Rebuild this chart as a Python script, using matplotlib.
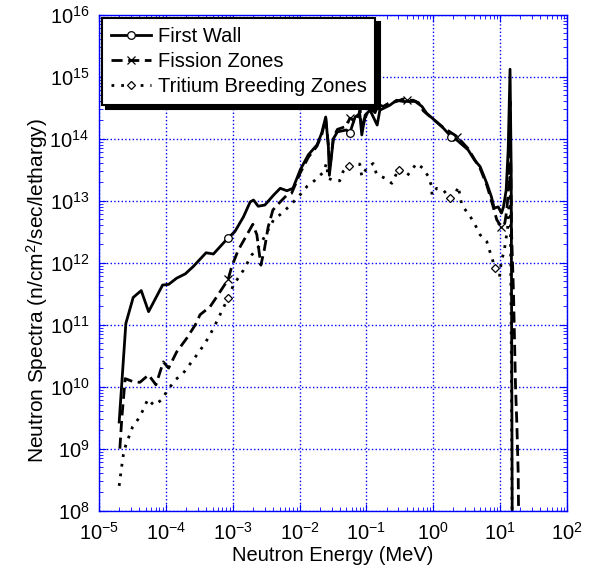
import numpy as np
import matplotlib
matplotlib.use("Agg")
import matplotlib.pyplot as plt
from matplotlib.lines import Line2D
from matplotlib.ticker import LogLocator, NullFormatter

plt.rcParams['font.family'] = ['Liberation Sans', 'DejaVu Sans']
plt.rcParams['mathtext.default'] = 'regular'

# log10(energy / MeV), log10(flux)
fw_logE = [-4.70, -4.60, -4.49, -4.37, -4.26, -4.05, -3.96, -3.84, -3.71, -3.59,
           -3.40, -3.29, -3.07, -2.97, -2.84, -2.74, -2.69, -2.62, -2.52, -2.39,
           -2.29, -2.19, -2.10, -1.99, -1.87, -1.74, -1.67, -1.61, -1.57, -1.555,
           -1.495, -1.435, -1.30, -1.25, -1.17, -1.10, -1.07, -1.02, -0.947, -0.84,
           -0.80, -0.65, -0.55, -0.45, -0.40, -0.27, -0.17, -0.10, 0.05, 0.15,
           0.27, 0.35, 0.52, 0.62, 0.70, 0.80, 0.87, 0.91, 0.97, 1.02,
           1.05, 1.09, 1.12, 1.148, 1.165, 1.18, 1.19]
fw_logF = [9.43, 11.02, 11.44, 11.55, 11.21, 11.64, 11.65, 11.75, 11.82, 11.94,
           12.16, 12.14, 12.40, 12.50, 12.74, 12.98, 13.01, 12.91, 12.93, 13.09,
           13.20, 13.16, 13.20, 13.50, 13.74, 13.90, 14.09, 14.35, 13.87, 13.41,
           14.00, 14.11, 14.14, 14.09, 14.35, 14.40, 14.06, 14.38, 14.46, 14.22,
           14.46, 14.54, 14.62, 14.60, 14.60, 14.60, 14.52, 14.41, 14.27, 14.17,
           14.03, 13.98, 13.82, 13.65, 13.55, 13.28, 13.06, 12.88, 12.90, 12.80,
           12.90, 13.17, 13.82, 15.12, 13.50, 8.00, 7.00]
fw_marks = [12, 33, 50]

fz_logE = [-4.69, -4.66, -4.61, -4.49, -4.39, -4.26, -4.15, -4.04, -3.96, -3.84,
           -3.69, -3.56, -3.49, -3.34, -3.24, -3.07, -3.015, -2.92, -2.82, -2.70,
           -2.64, -2.58, -2.53, -2.47, -2.40, -2.30, -2.20, -2.12, -1.99, -1.87,
           -1.74, -1.67, -1.61, -1.57, -1.545, -1.495, -1.435, -1.30, -1.25, -1.146,
           -1.096, -1.07, -1.02, -0.947, -0.872, -0.82, -0.75, -0.67, -0.55, -0.45,
           -0.40, -0.30, -0.22, -0.15, 0.00, 0.15, 0.36, 0.52, 0.62, 0.70,
           0.80, 0.87, 0.95, 1.02, 1.07, 1.10, 1.13, 1.148, 1.17, 1.20,
           1.23, 1.25, 1.27, 1.28]
fz_logF = [9.00, 9.50, 10.13, 10.08, 10.07, 10.19, 10.03, 10.40, 10.30, 10.56,
           10.78, 11.00, 11.16, 11.29, 11.45, 11.73, 11.94, 12.20, 12.39, 12.62,
           12.45, 11.96, 12.20, 12.58, 12.85, 12.97, 13.08, 13.12, 13.45, 13.70,
           13.88, 14.06, 14.33, 13.90, 13.55, 14.02, 14.15, 14.20, 14.33, 14.28,
           14.46, 14.15, 14.34, 14.50, 14.42, 14.55, 14.52, 14.57, 14.60, 14.64,
           14.62, 14.62, 14.58, 14.45, 14.31, 14.18, 14.03, 13.84, 13.66, 13.52,
           13.25, 13.00, 12.69, 12.58, 12.64, 12.85, 13.28, 14.60, 12.50, 11.50,
           10.00, 9.40, 8.60, 7.50]
fz_marks = [15, 38, 50, 56, 63]

tb_logE = [-4.70, -4.675, -4.656, -4.636, -4.60, -4.50, -4.40, -4.34, -4.27, -4.18,
           -4.06, -3.99, -3.86, -3.74, -3.54, -3.415, -3.29, -3.07, -2.99, -2.84,
           -2.72, -2.59, -2.39, -2.24, -2.14, -2.02, -1.89, -1.77, -1.645, -1.60,
           -1.57, -1.50, -1.40, -1.35, -1.26, -1.20, -1.10, -1.07, -1.00, -0.90,
           -0.85, -0.72, -0.62, -0.55, -0.51, -0.40, -0.25, -0.15, -0.075, -0.025,
           -0.02, 0.05, 0.15, 0.25, 0.325, 0.374, 0.425, 0.55, 0.64, 0.70,
           0.80, 0.84, 0.88, 0.92, 0.99, 1.02, 1.06, 1.08, 1.11, 1.14,
           1.148, 1.165, 1.18]
tb_logF = [8.40, 8.61, 8.76, 8.91, 9.06, 9.35, 9.50, 9.63, 9.80, 9.70,
           9.79, 9.92, 10.11, 10.22, 10.51, 10.70, 10.94, 11.43, 11.64, 11.88,
           12.12, 12.29, 12.69, 12.82, 12.93, 13.06, 13.23, 13.33, 13.46, 13.60,
           13.36, 13.33, 13.32, 13.47, 13.56, 13.58, 13.59, 13.39, 13.52, 13.60,
           13.43, 13.36, 13.28, 13.44, 13.50, 13.39, 13.60, 13.52, 13.39, 13.23,
           13.09, 13.20, 13.17, 13.04, 13.09, 13.23, 12.93, 12.75, 12.58, 12.45,
           12.34, 12.20, 12.07, 11.91, 11.77, 12.04, 12.18, 12.34, 12.53, 13.06,
           13.60, 11.00, 7.50]
tb_marks = [17, 34, 44, 53, 63]

series = [
    ('First Wall', fw_logE, fw_logF, fw_marks, '-', None, 'o'),
    ('Fission Zones', fz_logE, fz_logF, fz_marks, '--', (4, 2), 'x'),
    ('Tritium Breeding Zones', tb_logE, tb_logF, tb_marks, ':', (1, 2.5), 'D'),
]

fig = plt.figure(figsize=(5.9, 5.69), dpi=100)
ax = fig.add_axes([0.168, 0.1025, 0.793, 0.8717])

handles = []
for name, le, lf, marks, ls, dashes, mk in series:
    e = 10.0 ** np.array(le)
    f = 10.0 ** np.array(lf)
    kw = dict(color='black', linewidth=2.0, linestyle=ls)
    if dashes is not None:
        kw['dashes'] = dashes
    ax.plot(e, f, **kw)
    ms = 4.5 if mk == 'D' else 5.5
    ax.plot(e[marks], f[marks], linestyle='none', marker=mk, markersize=ms,
            markerfacecolor='white', markeredgecolor='black', markeredgewidth=0.9)
    handles.append(Line2D([], [], label=name, markersize=ms, marker=mk,
                          markerfacecolor='white', markeredgecolor='black',
                          markeredgewidth=0.9, **kw))

ax.set_xscale('log')
ax.set_yscale('log')
ax.set_xlim(1e-5, 1e2)
ax.set_ylim(1e8, 1e16)

ax.xaxis.set_major_locator(LogLocator(base=10, numticks=20))
ax.yaxis.set_major_locator(LogLocator(base=10, numticks=20))
ax.xaxis.set_minor_locator(LogLocator(base=10, subs=np.arange(2, 10), numticks=100))
ax.yaxis.set_minor_locator(LogLocator(base=10, subs=np.arange(2, 10), numticks=100))
ax.xaxis.set_minor_formatter(NullFormatter())
ax.yaxis.set_minor_formatter(NullFormatter())

blue = '#0000ff'
for s in ax.spines.values():
    s.set_color(blue)
    s.set_linewidth(1.0)
ax.tick_params(which='both', direction='in', top=True, right=True, color=blue,
               labelcolor='black', labelsize=14.5)
ax.tick_params(which='major', length=5)
ax.tick_params(which='minor', length=3)
ax.tick_params(axis='x', which='major', pad=8)
ax.tick_params(axis='y', which='major', pad=7)
ax.grid(True, which='major', color=blue, linestyle=':', linewidth=1.0)

ax.set_xlabel('Neutron Energy (MeV)', fontsize=14.5, labelpad=2)
ax.set_ylabel('Neutron Spectra (n/cm$^2$/sec/lethargy)', fontsize=15)
ax.yaxis.set_label_coords(-0.105, 0.443)

leg = ax.legend(handles=handles, loc='upper left', fontsize=14.5, fancybox=False,
                framealpha=1, edgecolor='black', borderaxespad=0.15,
                handlelength=2.0, handletextpad=0.3, labelspacing=0.3,
                borderpad=0.45,
                shadow={'color': 'black', 'alpha': 1, 'ox': 3, 'oy': -3})
leg.get_frame().set_linewidth(1.5)

fig.savefig('out.png', dpi=100)
